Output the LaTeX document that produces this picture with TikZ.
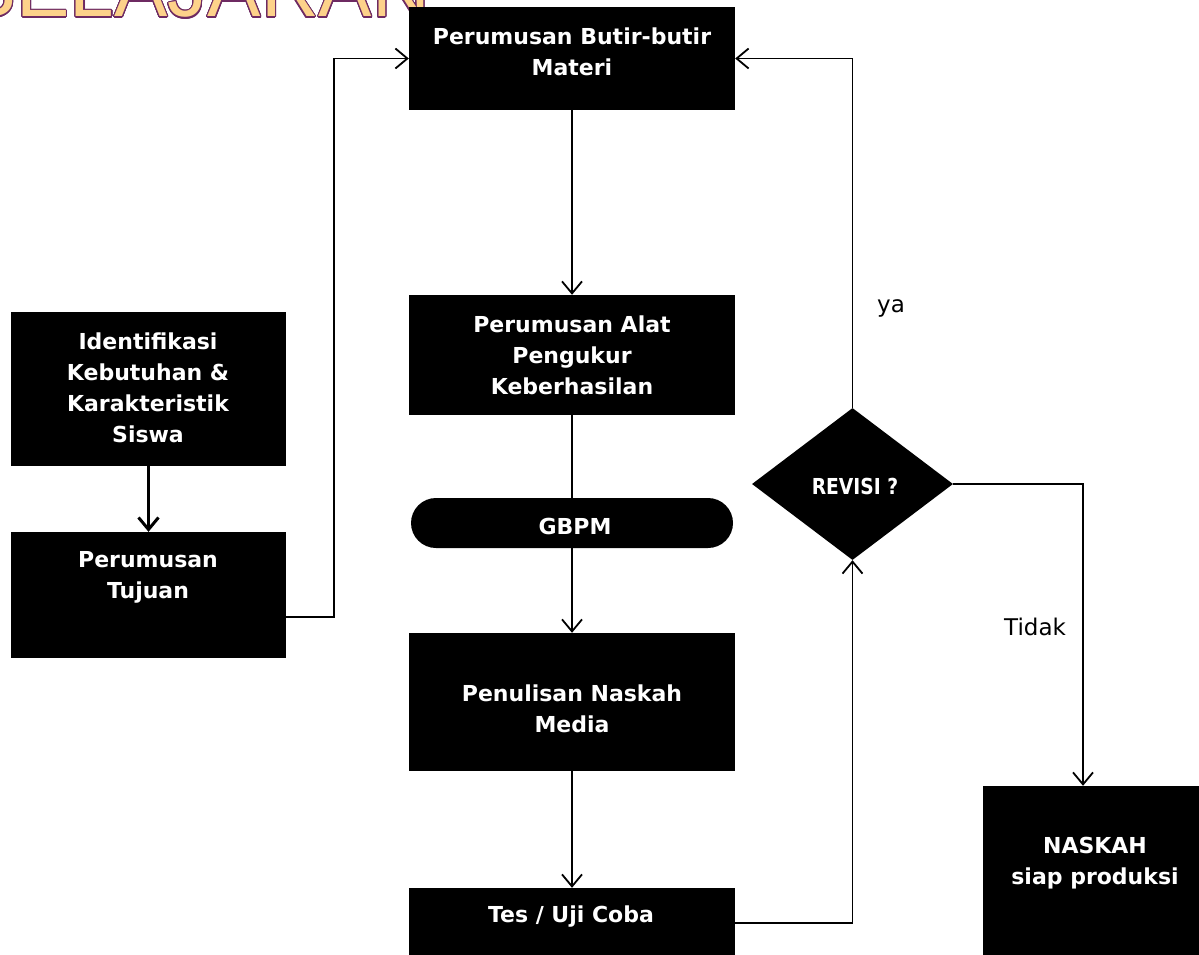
\documentclass[tikz,border=0pt]{standalone}
\usepackage{fontspec}
\setmainfont{DejaVu Sans}
\newfontfamily\titlefont{Liberation Sans}
\usepackage[copies]{contour}
\usetikzlibrary{shapes.geometric,arrows.meta}
\definecolor{titlefill}{HTML}{FDD28A}
\definecolor{titleline}{HTML}{6E2A62}
\contourlength{1.1pt}
\contournumber{24}
\begin{document}
\begin{tikzpicture}[x=1pt,y=-1pt,
  box/.style={fill=black, draw=none, inner sep=0pt},
  txt/.style={text=white, font=\bfseries\fontsize{22}{31}\selectfont, align=center, inner sep=0pt},
  lbl/.style={text=black, font=\fontsize{23}{28}\selectfont, inner sep=0pt},
  link/.style={line width=1.8pt},
  conn/.style={line width=1.8pt, -{Straight Barb[length=12pt,width=20pt]}},
  thickconn/.style={line width=3pt, -{Straight Barb[length=12pt,width=20pt]}}]
\useasboundingbox (0,0) rectangle (1199,955);
\fill[white] (0,0) rectangle (1199,955);
% title (clipped at top of page)
\node[anchor=base west, inner sep=0pt, text=titlefill, font=\titlefont\fontsize{80}{80}\selectfont] (title) at (-37,17) {\contour{titleline}{BELAJARAN}};
% boxes
\node[box, minimum width=275pt, minimum height=154pt] (idn) at (148.5,389) {};
\node[box, minimum width=275pt, minimum height=126pt] (tuj) at (148.5,595) {};
\node[box, minimum width=326pt, minimum height=103pt] (b1) at (572,58.5) {};
\node[box, minimum width=326pt, minimum height=120pt] (b2) at (572,355) {};
\node[box, minimum width=322pt, minimum height=50pt, rounded corners=25pt] (gbpm) at (572,523) {};
\node[box, minimum width=326pt, minimum height=138pt] (b3) at (572,702) {};
\node[box, minimum width=326pt, minimum height=70pt] (b4) at (572,923) {};
\node[box, diamond, minimum width=201pt, minimum height=152pt] (dia) at (852.5,484) {};
\node[box, minimum width=224pt, minimum height=180pt] (nask) at (1095,876) {};
% texts
\node[txt] (tidn) at (148,388) {Identifikasi\\Kebutuhan \&\\Karakteristik\\Siswa};
\node[txt] (ttuj) at (148,577) {Perumusan\\Tujuan};
\node[txt] (tb1) at (572,52) {Perumusan Butir-butir\\Materi};
\node[txt] (tb2) at (572,355) {Perumusan Alat\\Pengukur\\Keberhasilan};
\node[txt] (tgbpm) at (575,526) {GBPM};
\node[txt] (tb3) at (572,709) {Penulisan Naskah\\Media};
\node[txt] (tb4) at (571,917) {Tes / Uji Coba};
\node[txt, font=\bfseries\fontsize{22}{31}\selectfont\addfontfeatures{FakeStretch=0.85}] (tdia) at (855,486) {REVISI ?};
\node[txt] (tnask) at (1095,863) {NASKAH\\siap produksi};
\node[lbl] (ya) at (891,308) {ya};
\node[lbl] (tidak) at (1035,627) {Tidak};
% connectors
\draw[thickconn] (idn.south) -- (tuj.north);
\draw[conn] ([yshift=-22pt]tuj.east) -- ++(48,0) |- (b1.west);
\draw[conn] (b1.south) -- (b2.north);
\draw[link] (b2.south) -- (gbpm.north);
\draw[conn] (gbpm.south) -- (b3.north);
\draw[conn] (b3.south) -- (b4.north);
\draw[conn] (b4.east) -| (dia.south);
\draw[conn] (dia.north) |- (b1.east);
\draw[conn] (dia.east) -| ([xshift=-12pt]nask.north);
\end{tikzpicture}
\end{document}
